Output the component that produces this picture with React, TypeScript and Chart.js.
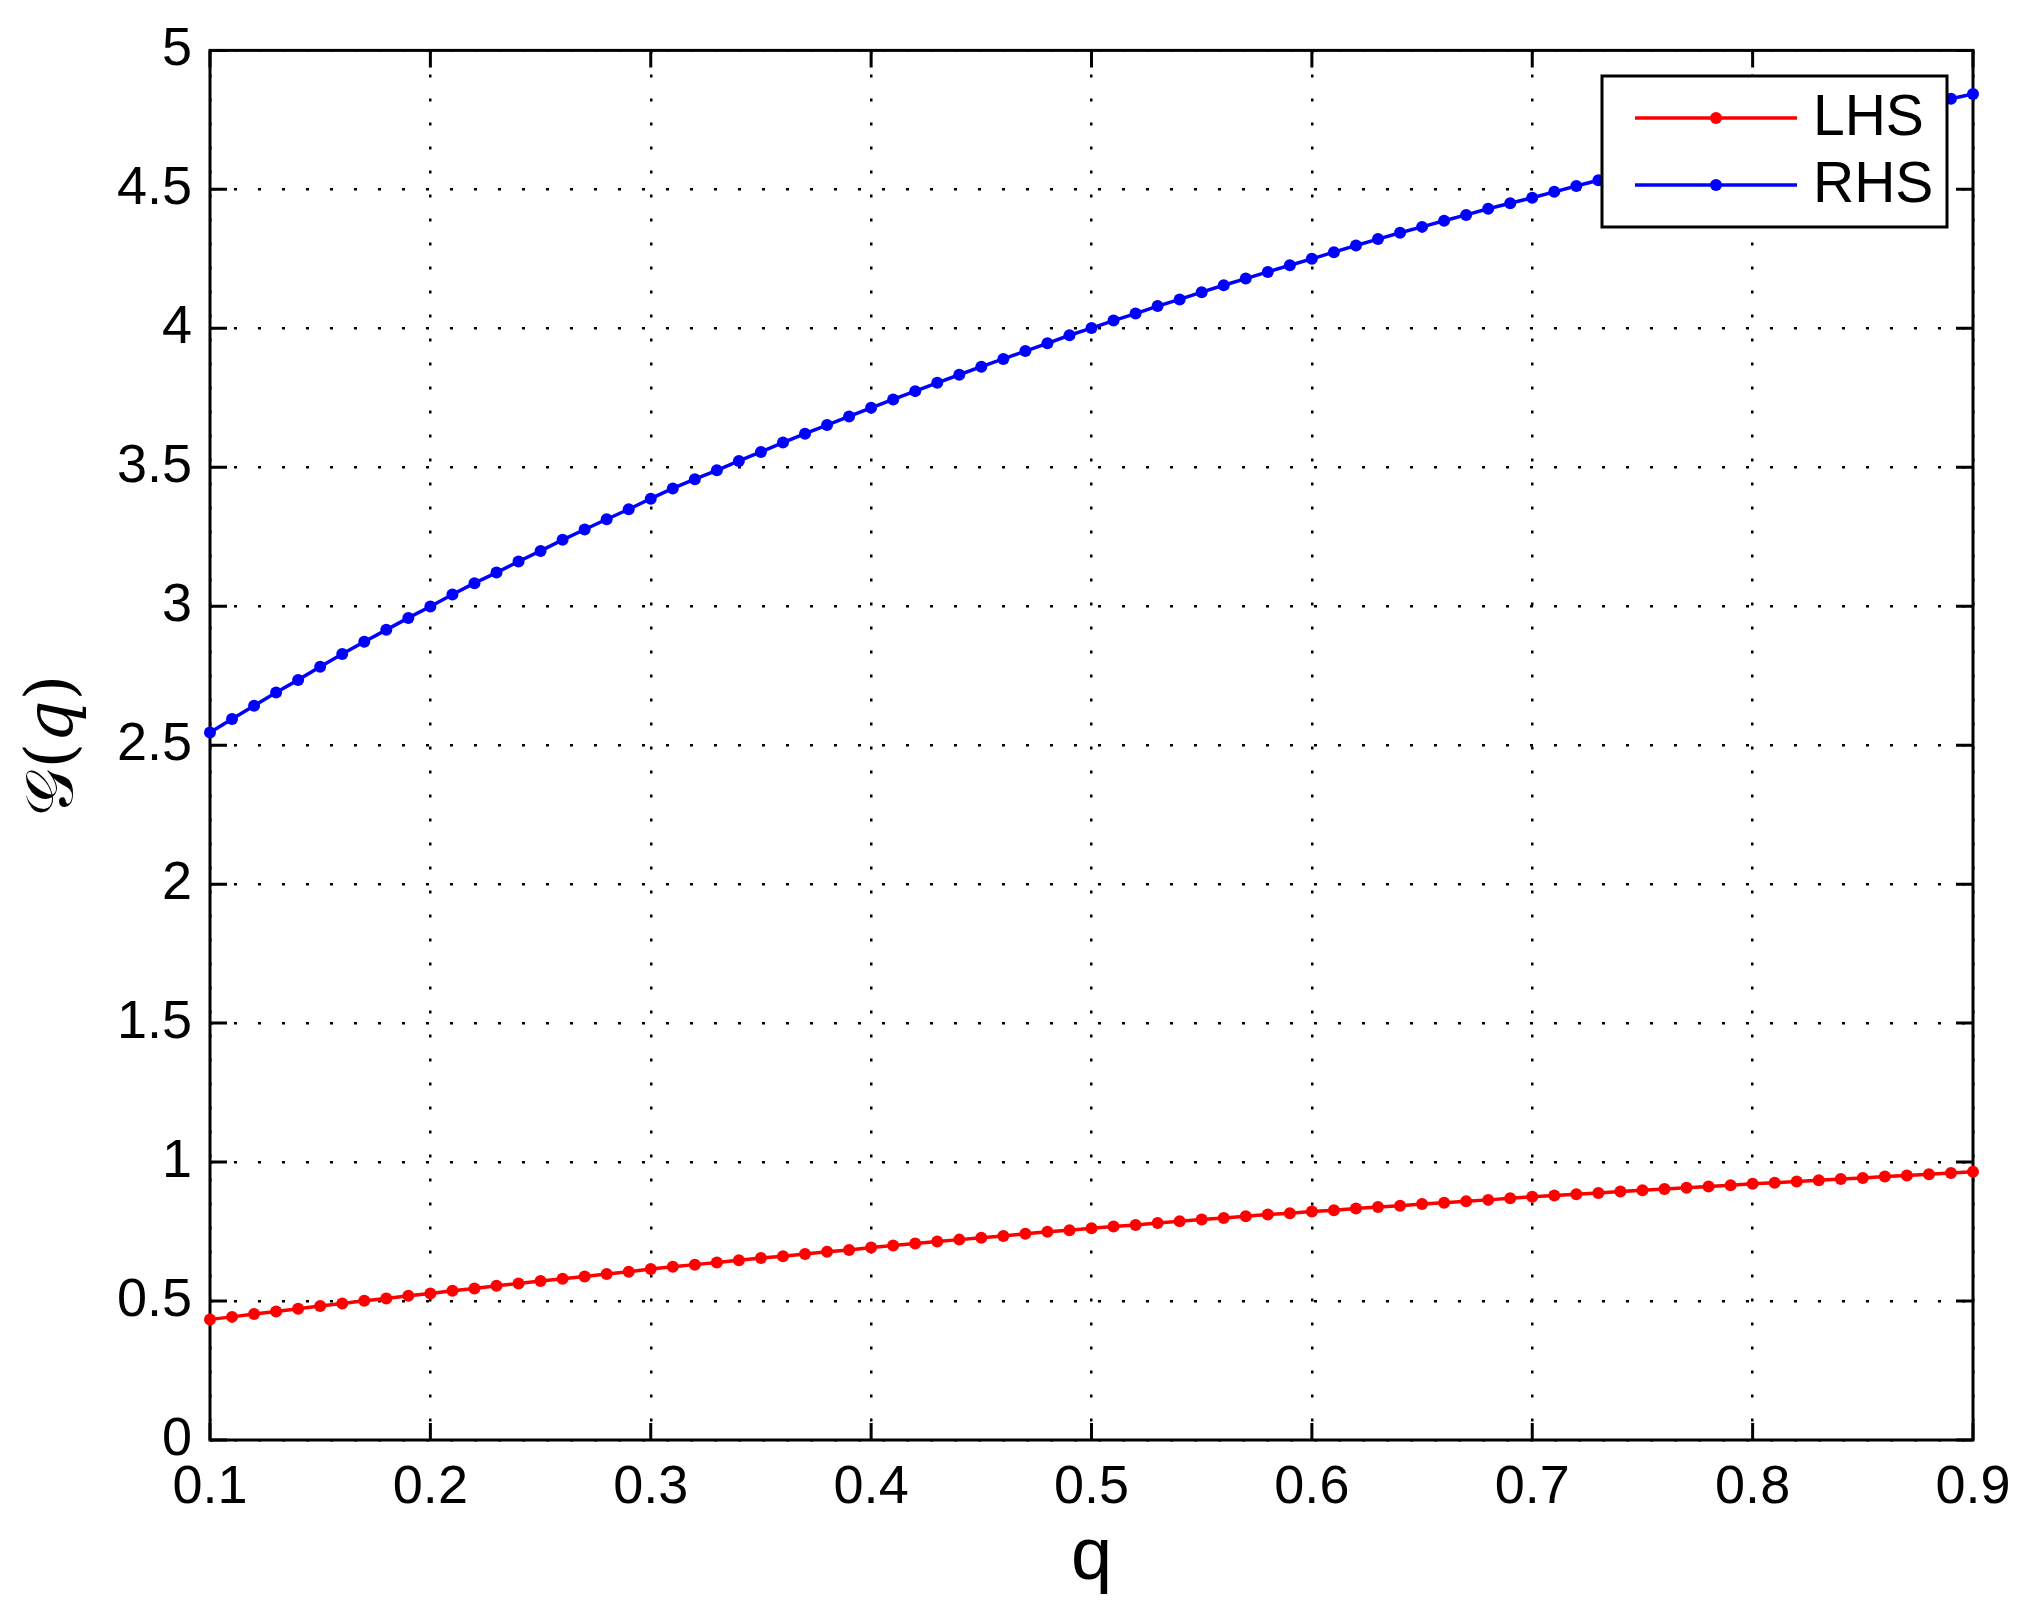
import { useEffect, useRef } from 'react';
import { Chart, registerables } from 'chart.js';

Chart.register(...registerables);

const qValues = [
  0.10, 0.11, 0.12, 0.13, 0.14, 0.15, 0.16, 0.17, 0.18, 0.19,
  0.20, 0.21, 0.22, 0.23, 0.24, 0.25, 0.26, 0.27, 0.28, 0.29,
  0.30, 0.31, 0.32, 0.33, 0.34, 0.35, 0.36, 0.37, 0.38, 0.39,
  0.40, 0.41, 0.42, 0.43, 0.44, 0.45, 0.46, 0.47, 0.48, 0.49,
  0.50, 0.51, 0.52, 0.53, 0.54, 0.55, 0.56, 0.57, 0.58, 0.59,
  0.60, 0.61, 0.62, 0.63, 0.64, 0.65, 0.66, 0.67, 0.68, 0.69,
  0.70, 0.71, 0.72, 0.73, 0.74, 0.75, 0.76, 0.77, 0.78, 0.79,
  0.80, 0.81, 0.82, 0.83, 0.84, 0.85, 0.86, 0.87, 0.88, 0.89,
  0.90,
];

const lhsValues = [
  0.434, 0.443, 0.453, 0.462, 0.472, 0.482, 0.491, 0.501, 0.509, 0.519,
  0.527, 0.537, 0.545, 0.555, 0.563, 0.572, 0.580, 0.588, 0.597, 0.605,
  0.615, 0.623, 0.631, 0.639, 0.647, 0.655, 0.661, 0.669, 0.677, 0.684,
  0.693, 0.700, 0.707, 0.714, 0.721, 0.728, 0.734, 0.742, 0.749, 0.755,
  0.762, 0.768, 0.774, 0.781, 0.787, 0.793, 0.799, 0.805, 0.811, 0.816,
  0.822, 0.827, 0.833, 0.838, 0.843, 0.849, 0.854, 0.859, 0.864, 0.870,
  0.875, 0.880, 0.884, 0.889, 0.894, 0.899, 0.903, 0.908, 0.912, 0.917,
  0.922, 0.926, 0.930, 0.935, 0.939, 0.943, 0.948, 0.952, 0.956, 0.961,
  0.965,
];

const rhsValues = [
  2.546, 2.594, 2.642, 2.690, 2.735, 2.782, 2.828, 2.872, 2.915, 2.958,
  2.999, 3.042, 3.083, 3.121, 3.161, 3.199, 3.239, 3.276, 3.313, 3.349,
  3.387, 3.424, 3.457, 3.489, 3.523, 3.555, 3.589, 3.621, 3.652, 3.683,
  3.714, 3.744, 3.774, 3.804, 3.833, 3.862, 3.890, 3.918, 3.946, 3.975,
  4.001, 4.028, 4.053, 4.080, 4.104, 4.130, 4.155, 4.179, 4.203, 4.227,
  4.250, 4.274, 4.298, 4.321, 4.344, 4.365, 4.387, 4.408, 4.430, 4.450,
  4.470, 4.491, 4.512, 4.533, 4.553, 4.573, 4.592, 4.611, 4.630, 4.649,
  4.668, 4.686, 4.704, 4.722, 4.740, 4.757, 4.775, 4.792, 4.809, 4.826,
  4.843,
];

const xTickValues = [0.1, 0.2, 0.3, 0.4, 0.5, 0.6, 0.7, 0.8, 0.9];
const yTickValues = [0, 0.5, 1, 1.5, 2, 2.5, 3, 3.5, 4, 4.5, 5];
const seriesLabels = ['LHS', 'RHS'];
const seriesColors = ['#ff0000', '#0000ff'];
const xAxisTitle = 'q';
const yAxisTitle = '\u{1D4A2}(\u{1D45E})';

const W = 2036;
const H = 1619;
const SANS = '"Liberation Sans", Arial, Helvetica, sans-serif';

const framePlugin = {
  id: 'matlabFrame',
  beforeDatasetsDraw(chart: any) {
    const { ctx, chartArea: a, scales } = chart;
    const tick = 17;
    ctx.save();
    ctx.strokeStyle = '#000';
    ctx.lineWidth = 3;
    ctx.lineCap = 'butt';
    ctx.beginPath();
    for (const v of xTickValues) {
      const px = scales.x.getPixelForValue(v);
      ctx.moveTo(px, a.bottom);
      ctx.lineTo(px, a.bottom - tick);
      ctx.moveTo(px, a.top);
      ctx.lineTo(px, a.top + tick);
    }
    for (const v of yTickValues) {
      const py = scales.y.getPixelForValue(v);
      ctx.moveTo(a.left, py);
      ctx.lineTo(a.left + tick, py);
      ctx.moveTo(a.right, py);
      ctx.lineTo(a.right - tick, py);
    }
    ctx.stroke();
    ctx.lineJoin = 'miter';
    ctx.strokeRect(a.left, a.top, a.right - a.left, a.bottom - a.top);
    ctx.restore();
  },
  afterDraw(chart: any) {
    const { ctx } = chart;
    const bx = 1602, by = 76, bw = 345, bh = 151;
    ctx.save();
    ctx.fillStyle = '#fff';
    ctx.fillRect(bx, by, bw, bh);
    ctx.strokeStyle = '#000';
    ctx.lineWidth = 3;
    ctx.strokeRect(bx, by, bw, bh);
    const rows = [118, 185];
    chart.data.datasets.forEach((ds: any, i: number) => {
      const y = rows[i];
      ctx.strokeStyle = ds.borderColor;
      ctx.lineWidth = 3.5;
      ctx.beginPath();
      ctx.moveTo(1635, y);
      ctx.lineTo(1797, y);
      ctx.stroke();
      ctx.fillStyle = ds.borderColor;
      ctx.beginPath();
      ctx.arc(1716, y, 6, 0, Math.PI * 2);
      ctx.fill();
      ctx.fillStyle = '#000';
      ctx.font = `57px ${SANS}`;
      ctx.textAlign = 'left';
      ctx.textBaseline = 'middle';
      ctx.fillText(ds.label, 1813, y + 1);
    });
    ctx.restore();
  },
};

export default function App() {
  const ref = useRef<HTMLCanvasElement>(null);

  useEffect(() => {
    const canvas = ref.current;
    if (!canvas) return;
    const series = [lhsValues, rhsValues];
    const chart = new Chart(canvas, {
      type: 'line',
      data: {
        datasets: series.map((vals, i) => ({
          label: seriesLabels[i],
          data: qValues.map((q, j) => ({ x: q, y: vals[j] })),
          borderColor: seriesColors[i],
          backgroundColor: seriesColors[i],
          pointBackgroundColor: seriesColors[i],
          pointBorderColor: seriesColors[i],
          pointBorderWidth: 0,
          pointRadius: 6,
          borderWidth: 3.5,
          tension: 0,
          fill: false,
          clip: false as any,
        })),
      },
      options: {
        responsive: false,
        animation: false,
        devicePixelRatio: 1,
        layout: { padding: { left: 0, right: 63, top: 49, bottom: 0 } },
        plugins: {
          legend: { display: false },
          tooltip: { enabled: false },
        },
        scales: {
          x: {
            type: 'linear',
            min: 0.1,
            max: 0.9,
            afterBuildTicks: (s: any) => {
              s.ticks = xTickValues.map((v) => ({ value: v }));
            },
            afterFit: (s: any) => {
              s.height = H - 1440;
            },
            ticks: {
              color: '#000',
              font: { family: SANS, size: 54 },
              padding: 16,
              maxRotation: 0,
              autoSkip: false,
              callback: (v: any) => Number(v).toFixed(1),
            },
            grid: { color: '#000', lineWidth: 2.5, drawTicks: false },
            border: { display: false, dash: [3, 21] },
            title: {
              display: true,
              text: xAxisTitle,
              color: '#000',
              font: { family: SANS, size: 74 },
              padding: { top: 0, bottom: 16 },
            },
          },
          y: {
            type: 'linear',
            min: 0,
            max: 5,
            afterBuildTicks: (s: any) => {
              s.ticks = yTickValues.map((v) => ({ value: v }));
            },
            afterFit: (s: any) => {
              s.width = 210;
            },
            ticks: {
              color: '#000',
              font: { family: SANS, size: 54 },
              padding: 18,
              autoSkip: false,
              callback: (v: any) => String(v),
            },
            grid: { color: '#000', lineWidth: 2.5, drawTicks: false },
            border: { display: false, dash: [3, 21] },
            title: {
              display: true,
              text: yAxisTitle,
              color: '#000',
              font: { family: '"DejaVu Serif", serif', size: 66 },
              padding: { top: 15, bottom: 0 },
            },
          },
        },
      },
      plugins: [framePlugin],
    } as any);
    return () => chart.destroy();
  }, []);

  return (
    <div style={{ position: 'fixed', left: 0, top: 0, width: W, height: H, background: '#fff' }}>
      <canvas ref={ref} width={W} height={H} style={{ display: 'block' }} />
    </div>
  );
}
